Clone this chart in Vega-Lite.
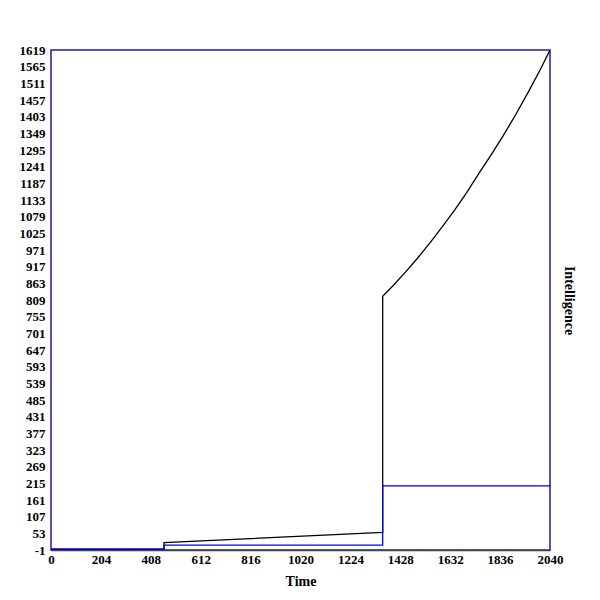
{
  "$schema": "https://vega.github.io/schema/vega-lite/v6.json",
  "autosize": {"type": "none"},
  "padding": {"left": 51, "top": 50, "right": 50, "bottom": 50},
  "width": 499,
  "height": 500,
  "background": "white",
  "data": {
    "values": [
      {"i": 0, "series": "black", "t": 0, "v": 2},
      {"i": 1, "series": "black", "t": 462, "v": 2},
      {"i": 2, "series": "black", "t": 462, "v": 23},
      {"i": 3, "series": "black", "t": 1356, "v": 56},
      {"i": 4, "series": "black", "t": 1356, "v": 821},
      {"i": 5, "series": "black", "t": 1400, "v": 857},
      {"i": 6, "series": "black", "t": 1450, "v": 900},
      {"i": 7, "series": "black", "t": 1500, "v": 946},
      {"i": 8, "series": "black", "t": 1550, "v": 995},
      {"i": 9, "series": "black", "t": 1600, "v": 1047},
      {"i": 10, "series": "black", "t": 1650, "v": 1100},
      {"i": 11, "series": "black", "t": 1700, "v": 1158},
      {"i": 12, "series": "black", "t": 1750, "v": 1220},
      {"i": 13, "series": "black", "t": 1800, "v": 1280},
      {"i": 14, "series": "black", "t": 1850, "v": 1343},
      {"i": 15, "series": "black", "t": 1900, "v": 1410},
      {"i": 16, "series": "black", "t": 1950, "v": 1481},
      {"i": 17, "series": "black", "t": 2000, "v": 1555},
      {"i": 18, "series": "black", "t": 2040, "v": 1619},
      {"i": 20, "series": "blue", "t": 0, "v": 2},
      {"i": 21, "series": "blue", "t": 462, "v": 2},
      {"i": 22, "series": "blue", "t": 462, "v": 15},
      {"i": 23, "series": "blue", "t": 1356, "v": 15},
      {"i": 24, "series": "blue", "t": 1356, "v": 207},
      {"i": 25, "series": "blue", "t": 2040, "v": 207}
    ]
  },
  "mark": {"type": "line", "strokeWidth": 1.3, "clip": true},
  "encoding": {
    "x": {
      "field": "t",
      "type": "quantitative",
      "scale": {"domain": [0, 2040], "nice": false, "zero": false},
      "axis": {
        "title": "Time",
        "values": [0, 204, 408, 612, 816, 1020, 1224, 1428, 1632, 1836, 2040],
        "labelExpr": "'' + datum.value",
        "grid": false,
        "ticks": false,
        "labelPadding": 3,
        "domainColor": "#444444",
        "domainWidth": 1.5,
        "titlePadding": 8,
        "labelFlush": false
      }
    },
    "y": {
      "field": "v",
      "type": "quantitative",
      "scale": {"domain": [-1, 1619], "nice": false, "zero": false},
      "axis": {
        "title": "Intelligence",
        "values": [-1, 53, 107, 161, 215, 269, 323, 377, 431, 485, 539, 593, 647, 701, 755, 809, 863, 917, 971, 1025, 1079, 1133, 1187, 1241, 1295, 1349, 1403, 1457, 1511, 1565, 1619],
        "labelExpr": "'' + datum.value",
        "grid": false,
        "ticks": false,
        "domain": false,
        "labelPadding": 6,
        "labelFlush": false,
        "titleAngle": 90,
        "titleX": 510,
        "titleY": 250,
        "titleAlign": "center",
        "titleBaseline": "bottom"
      }
    },
    "color": {
      "field": "series",
      "type": "nominal",
      "scale": {"domain": ["black", "blue"], "range": ["#000000", "#0000ee"]},
      "legend": null
    },
    "order": {"field": "i", "type": "quantitative"}
  },
  "config": {
    "view": {"stroke": "#1a1ab0", "strokeWidth": 1.5},
    "font": "Liberation Serif",
    "axis": {
      "labelFont": "Liberation Serif",
      "labelFontSize": 13,
      "labelFontWeight": "bold",
      "labelColor": "#000000",
      "titleFont": "Liberation Serif",
      "titleFontSize": 14,
      "titleFontWeight": "bold",
      "titleColor": "#000000"
    }
  }
}
